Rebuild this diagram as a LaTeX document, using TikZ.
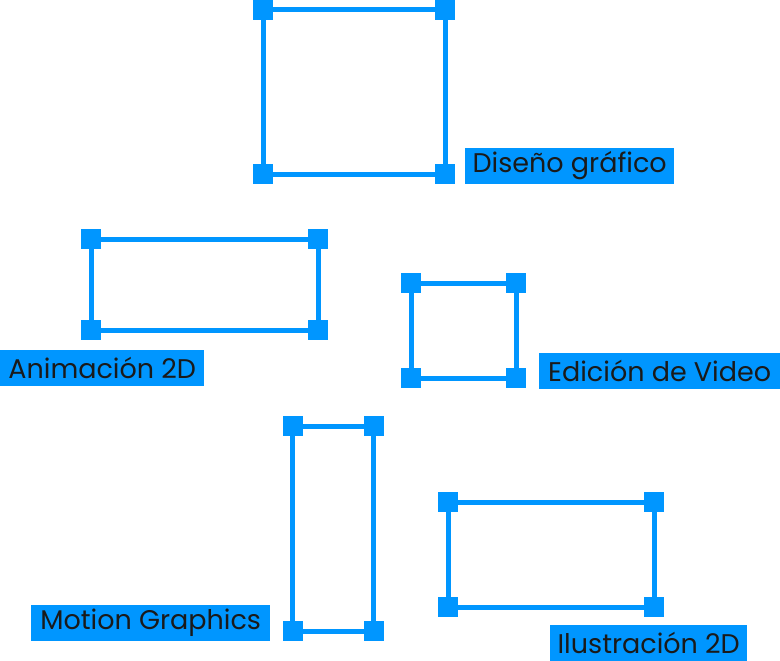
\documentclass[tikz,border=0pt]{standalone}
\usepackage{fontspec}
\setmainfont{Poppins}
\definecolor{hblue}{HTML}{0096FF}
\definecolor{ink}{HTML}{1A1A1A}
\tikzset{
  x=1pt, y=-1pt,
  handle/.style={fill=hblue, draw=none, minimum size=20pt, inner sep=0pt, outer sep=0pt},
  edge/.style={draw=hblue, line width=5pt},
  lab/.style={fill=hblue, text=ink, minimum height=36pt, inner sep=0pt, font=\fontsize{27}{31}\selectfont, anchor=west}
}
\begin{document}
\begin{tikzpicture}
\useasboundingbox (0,0) rectangle (780,661);
% Box 1: Diseño gráfico
\node[handle] (d1) at (263,10) {};
\node[handle] (d2) at (445,10) {};
\node[handle] (d3) at (445,174) {};
\node[handle] (d4) at (263,174) {};
\draw[edge] (d1) -- (d2) (d2) -- (d3) (d3) -- (d4) (d4) -- (d1);
\node[lab, minimum width=209pt] (ld) at (465,166) {Diseño gráfico};
% Box 2: Animación 2D
\node[handle] (a1) at (91,239) {};
\node[handle] (a2) at (318,239) {};
\node[handle] (a3) at (318,330) {};
\node[handle] (a4) at (91,330) {};
\draw[edge] (a1) -- (a2) (a2) -- (a3) (a3) -- (a4) (a4) -- (a1);
\node[lab, minimum width=204pt] (la) at (0,368) {Animación 2D};
% Box 3: Edición de Video
\node[handle] (e1) at (411,283) {};
\node[handle] (e2) at (516,283) {};
\node[handle] (e3) at (516,378) {};
\node[handle] (e4) at (411,378) {};
\draw[edge] (e1) -- (e2) (e2) -- (e3) (e3) -- (e4) (e4) -- (e1);
\node[lab, minimum width=241pt] (le) at (539,371) {Edición de Video};
% Box 4: Motion Graphics
\node[handle] (m1) at (292.5,426) {};
\node[handle] (m2) at (373.5,426) {};
\node[handle] (m3) at (373.5,631) {};
\node[handle] (m4) at (292.5,631) {};
\draw[edge] (m1) -- (m2) (m2) -- (m3) (m3) -- (m4) (m4) -- (m1);
\node[lab, minimum width=239pt] (lm) at (31,623) {Motion Graphics};
% Box 5: Ilustración 2D
\node[handle] (i1) at (448,502) {};
\node[handle] (i2) at (654,502) {};
\node[handle] (i3) at (654,607) {};
\node[handle] (i4) at (448,607) {};
\draw[edge] (i1) -- (i2) (i2) -- (i3) (i3) -- (i4) (i4) -- (i1);
\node[lab, minimum width=197pt] (li) at (550,643) {Ilustración 2D};
\end{tikzpicture}
\end{document}
